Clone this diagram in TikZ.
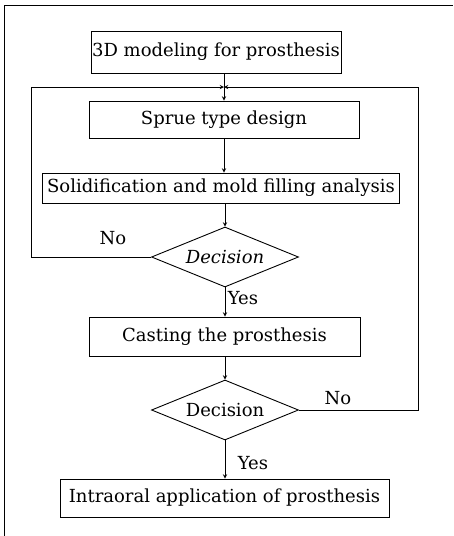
\documentclass[tikz,border=0pt]{standalone}
\usepackage{fontspec}
\setmainfont{DejaVu Serif}
\usetikzlibrary{shapes.geometric}

\tikzset{
    stepbox/.style={draw, line width=0.9pt, inner sep=0pt, font=\fontsize{18}{20}\selectfont},
    decide/.style={draw, diamond, aspect=2.45, line width=0.9pt, inner sep=0pt, minimum width=147pt, minimum height=60pt, font=\fontsize{18}{20}\selectfont},
    lbl/.style={font=\fontsize{18}{20}\selectfont}
}

\begin{document}
\begin{tikzpicture}[x=1pt, y=-1pt, >=stealth, line width=0.9pt]
    \useasboundingbox (0,0) rectangle (453,536);
    % frame
    \draw (4,536) -- (4,5) -- (453,5);

    \node[stepbox, minimum width=250pt, minimum height=42pt] (model) at (216,52) {3D modeling for prosthesis};
    \node[stepbox, minimum width=270pt, minimum height=37pt] (sprue) at (224,119.5) {Sprue type design};
    \node[stepbox, minimum width=357pt, minimum height=30pt] (solid) at (221,188) {Solidification and mold filling analysis};
    \node[decide] (dec1) at (225,257) {\itshape Decision};
    \node[stepbox, minimum width=271pt, minimum height=39pt] (cast) at (224.5,336.5) {Casting the prosthesis};
    \node[decide] (dec2) at (225,410) {Decision};
    \node[stepbox, minimum width=329pt, minimum height=38pt] (apply) at (224.5,498) {Intraoral application of prosthesis};

    \coordinate (join) at (sprue.north |- 0,87);

    \draw[->] (sprue.north |- model.south) -- (sprue.north);
    \draw[->] (sprue.south) -- (solid.north -| sprue.south);
    \draw[->] (dec1.north |- solid.south) -- (dec1.north);
    \draw[->] (dec1.south) -- (cast.north -| dec1.south);
    \draw[->] (dec2.north |- cast.south) -- (dec2.north);
    \draw[->] (dec2.south) -- (apply.north -| dec2.south);

    % loops back
    \draw[->] (dec1.west) -- ++(-120,0) |- (join);
    \draw[->] (dec2.east) -- ++(119,0) |- (join);

    \node[lbl] (no1) at (113,238) {No};
    \node[lbl] (yes1) at (243,298) {Yes};
    \node[lbl] (no2) at (338,398) {No};
    \node[lbl] (yes2) at (253,463) {Yes};
\end{tikzpicture}
\end{document}
